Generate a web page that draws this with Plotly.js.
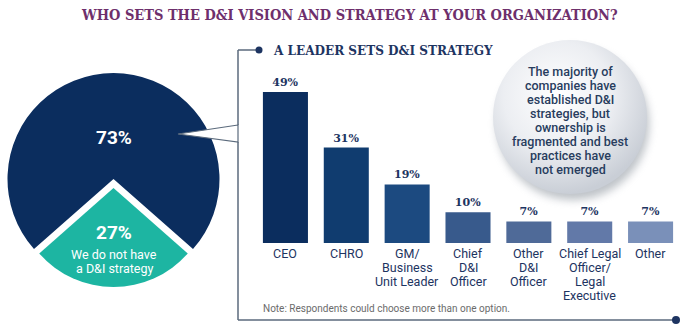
<!DOCTYPE html>
<html><head><meta charset="utf-8">
<script src="https://cdn.plot.ly/plotly-3.0.1.min.js"></script>
<style>html,body{margin:0;padding:0;background:#fff}#chart{width:700px;height:330px}</style>
</head><body><div id="chart"></div>
<script>
// ---- data ----
const pieLabels = ["We have a D&I strategy", "We do not have a D&I strategy"];
const pieValues = [73, 27];
const pieColors = ["#0b2d5e", "#1db5a2"];
const pieTextMain = ["73%", "27%"];
const pieTextSub = ["We do not have", "a D&I strategy"];

const catLines = [["CEO"], ["CHRO"], ["GM/", "Business", "Unit Leader"], ["Chief", "D&I", "Officer"],
                  ["Other", "D&I", "Officer"], ["Chief Legal", "Officer/", "Legal", "Executive"], ["Other"]];
const categories = catLines.map(l => l.join(" "));
const values = [49, 31, 19, 10, 7, 7, 7];
const barColors = ["#0b2d5e", "#103c6f", "#1c4a80", "#385a8c", "#4f6a98", "#6279a8", "#7a90b9"];

const titleText = "WHO SETS THE D&I VISION AND STRATEGY AT YOUR ORGANIZATION?";
const subtitleText = "A LEADER SETS D&I STRATEGY";
const calloutLines = ["The majority of", "companies have", "established D&I", "strategies, but",
                      "ownership is", "fragmented and best", "practices have", "not emerged"];
const noteText = "Note: Respondents could choose more than one option.";

// ---- helpers ----
const W = 700, H = 330;
const px = x => x / W;
const py = y => 1 - y / H;
const navyText = "#1d3461";
const lineCol = "#5b6a7c";

// ---- traces ----
const traces = [
  {
    type: "pie", labels: pieLabels, values: pieValues, sort: false, direction: "clockwise",
    rotation: 228.6, textinfo: "none", hoverinfo: "skip", showlegend: false,
    marker: {colors: [pieColors[0], "rgba(0,0,0,0)"], line: {width: 0}},
    domain: {x: [px(7.5), px(219.5)], y: [py(285), py(73)]}
  },
  {
    type: "pie", labels: pieLabels, values: pieValues, sort: false, direction: "clockwise",
    rotation: 228.6, textinfo: "none", hoverinfo: "skip", showlegend: false,
    marker: {colors: ["rgba(0,0,0,0)", pieColors[1]], line: {width: 0}},
    domain: {x: [px(14.5), px(212.5)], y: [py(287), py(89)]}
  },
  {
    type: "bar", x: categories, y: values, marker: {color: barColors}, width: 0.74,
    texttemplate: "%{y}%", textposition: "outside", cliponaxis: false, hoverinfo: "skip",
    textfont: {family: "DejaVu Serif", size: 11, color: navyText, weight: "bold"},
    showlegend: false, xaxis: "x", yaxis: "y"
  }
];

// ---- annotations ----
const ann = [];
ann.push({xref: "paper", yref: "paper", x: px(349), y: py(15), xanchor: "center", yanchor: "middle",
  text: titleText, showarrow: false,
  font: {family: "DejaVu Serif Condensed, DejaVu Serif", size: 14.5, color: "#6e2f6c", weight: "bold"}});
ann.push({xref: "paper", yref: "paper", x: px(271), y: py(50), xanchor: "left", yanchor: "middle",
  text: subtitleText, showarrow: false,
  font: {family: "DejaVu Serif Condensed, DejaVu Serif", size: 13.4, color: navyText, weight: "bold"}});
ann.push({xref: "paper", yref: "paper", x: px(114), y: py(137), xanchor: "center", yanchor: "middle",
  text: pieTextMain[0], showarrow: false, font: {family: "Roboto", size: 19, color: "#ffffff", weight: "bold"}});
ann.push({xref: "paper", yref: "paper", x: px(114), y: py(232), xanchor: "center", yanchor: "middle",
  text: pieTextMain[1], showarrow: false, font: {family: "Roboto", size: 19, color: "#ffffff", weight: "bold"}});
pieTextSub.forEach((t, i) => ann.push({xref: "paper", yref: "paper", x: px(114), y: py(254 + 14 * i),
  xanchor: "center", yanchor: "middle", text: t, showarrow: false,
  font: {family: "Roboto", size: 12.5, color: "#ffffff"}}));
calloutLines.forEach((t, i) => ann.push({xref: "paper", yref: "paper", x: px(570), y: py(72 + 13.9 * i),
  xanchor: "center", yanchor: "middle", text: t, showarrow: false,
  font: {family: "Roboto", size: 12.5, color: "#283d5e", weight: 500}}));
catLines.forEach((lines, c) => lines.forEach((t, i) => ann.push({xref: "x", yref: "paper",
  x: categories[c], y: py(253 + 14 * i), xanchor: "center", yanchor: "middle", text: t, showarrow: false,
  font: {family: "Roboto", size: 12.5, color: navyText}})));
ann.push({xref: "paper", yref: "paper", x: px(261), y: py(308), xanchor: "left", yanchor: "middle",
  text: noteText, showarrow: false, font: {family: "Roboto", size: 10, color: "#6b6b6b"}});

// ---- shapes ----
const bx = 238;
const shapes = [
  {type: "line", xref: "paper", yref: "paper", x0: px(bx), y0: py(50), x1: px(259), y1: py(50), line: {color: lineCol, width: 1.5}},
  {type: "line", xref: "paper", yref: "paper", x0: px(bx), y0: py(50), x1: px(bx), y1: py(125), line: {color: lineCol, width: 1.5}},
  {type: "path", xref: "paper", yref: "paper",
   path: `M ${px(bx)} ${py(125)} L ${px(178)} ${py(134)} L ${px(bx)} ${py(142)} Z`,
   fillcolor: "#ffffff", line: {color: lineCol, width: 1.2}},
  {type: "line", xref: "paper", yref: "paper", x0: px(bx), y0: py(142), x1: px(bx), y1: py(320), line: {color: lineCol, width: 1.5}},
  {type: "line", xref: "paper", yref: "paper", x0: px(bx), y0: py(320), x1: px(676), y1: py(320), line: {color: lineCol, width: 1.5}},
  {type: "circle", xref: "paper", yref: "paper", x0: px(255.5), y0: py(46.5), x1: px(262.5), y1: py(53.5), fillcolor: navyText, line: {width: 0}},
  {type: "circle", xref: "paper", yref: "paper", x0: px(672), y0: py(316), x1: px(680), y1: py(324), fillcolor: navyText, line: {width: 0}}
];

// ---- callout bubble image ----
const bubbleSvg = "<svg xmlns='http://www.w3.org/2000/svg' width='180' height='180' viewBox='0 0 180 180'>" +
  "<defs><radialGradient id='g' cx='0.42' cy='0.36' r='0.64'>" +
  "<stop offset='0' stop-color='#ffffff'/><stop offset='0.55' stop-color='#eceef2'/><stop offset='1' stop-color='#c9ced6'/>" +
  "</radialGradient><filter id='s' x='-30%' y='-30%' width='160%' height='160%'><feGaussianBlur stdDeviation='4'/></filter></defs>" +
  "<circle cx='93' cy='95' r='76' fill='#7e8792' opacity='0.5' filter='url(#s)'/>" +
  "<circle cx='90' cy='88' r='77' fill='url(#g)'/></svg>";

const layout = {
  width: W, height: H, margin: {l: 0, r: 0, t: 0, b: 0},
  paper_bgcolor: "#ffffff", plot_bgcolor: "rgba(0,0,0,0)",
  showlegend: false, bargap: 0.26,
  xaxis: {domain: [px(255), px(681)], type: "category", showticklabels: false, showgrid: false,
          zeroline: false, showline: false, ticks: "", fixedrange: true},
  yaxis: {domain: [py(243), py(243 - 60 * 3.08)], range: [0, 60], showticklabels: false, showgrid: false,
          zeroline: false, showline: false, ticks: "", fixedrange: true},
  annotations: ann, shapes: shapes,
  images: [{source: "data:image/svg+xml;charset=utf-8," + encodeURIComponent(bubbleSvg),
            xref: "paper", yref: "paper", x: px(480), y: py(29), sizex: 180 / W, sizey: 180 / H,
            xanchor: "left", yanchor: "top", sizing: "stretch", layer: "above"}]
};

Plotly.newPlot("chart", traces, layout, {displayModeBar: false, staticPlot: true});
</script>
</body></html>
